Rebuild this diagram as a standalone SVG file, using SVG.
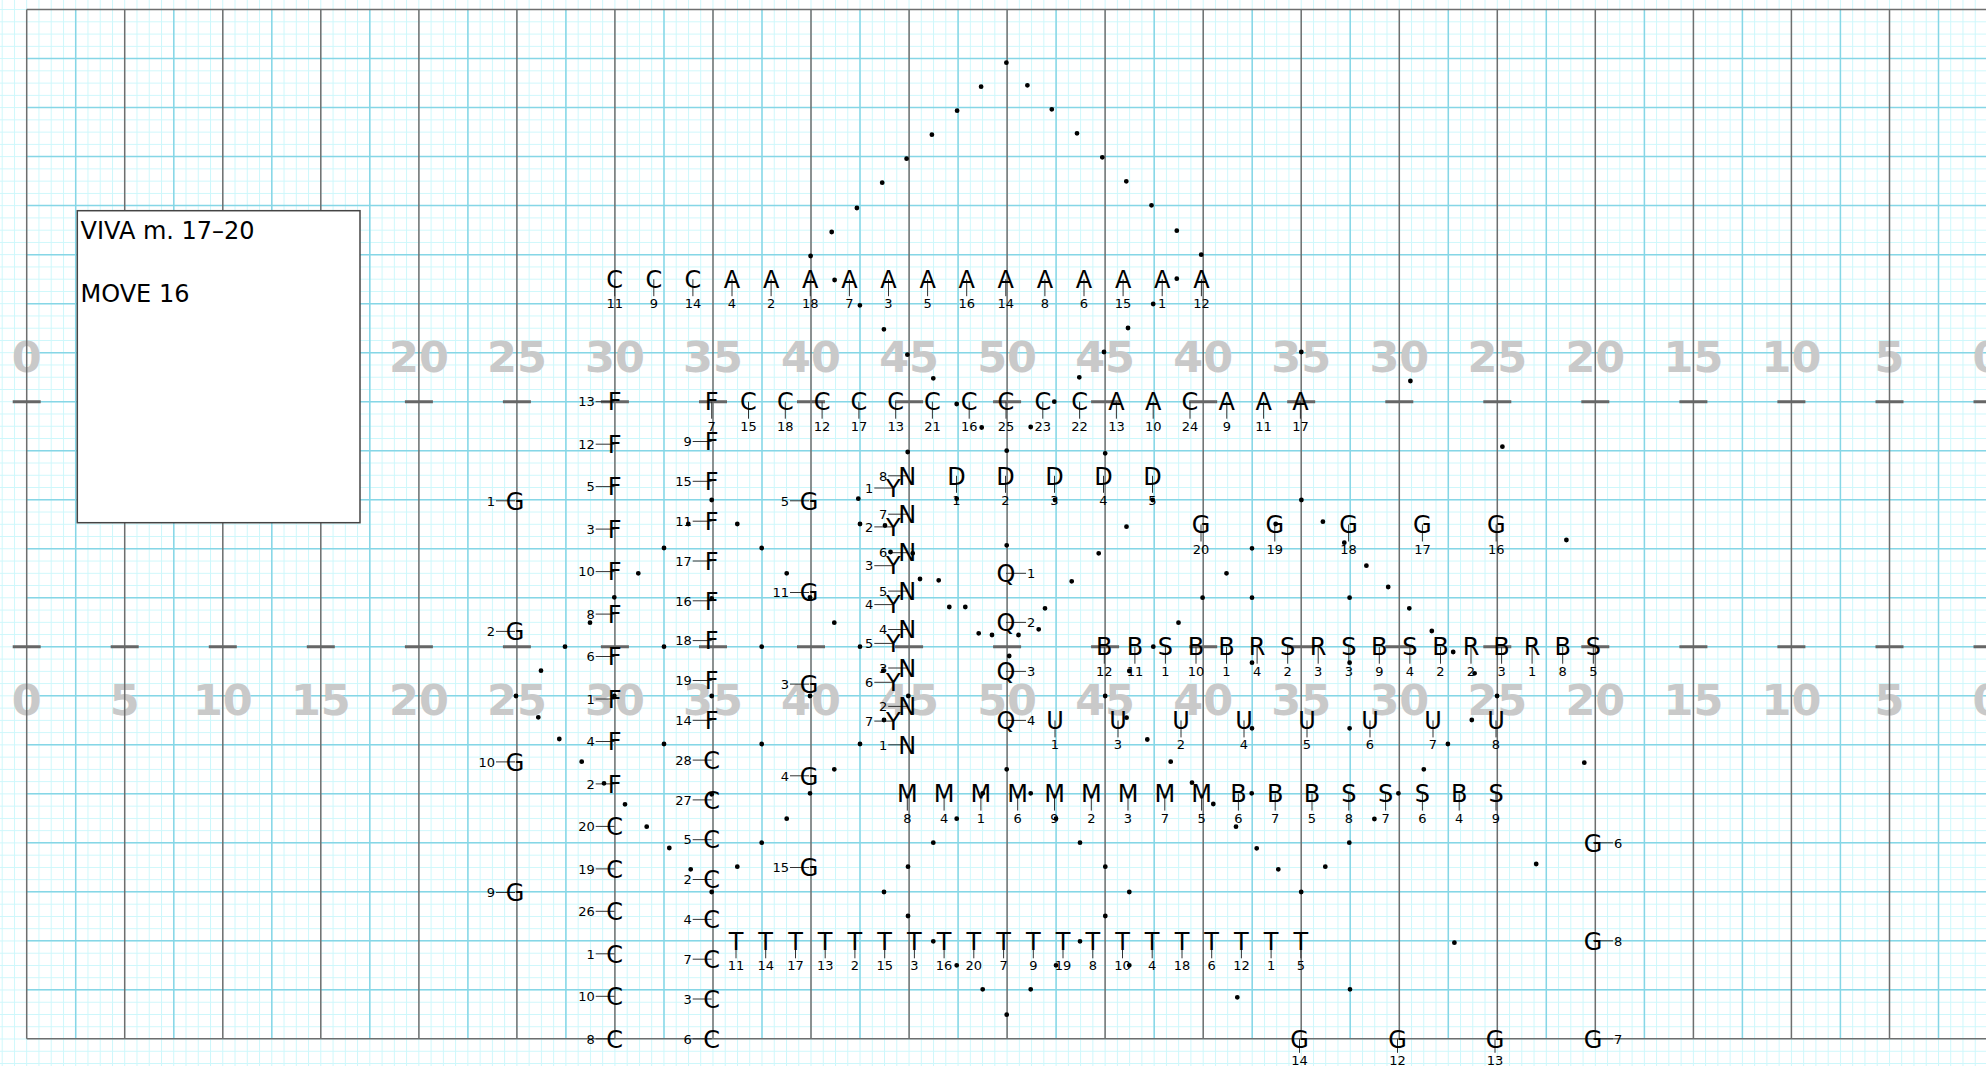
<svg xmlns="http://www.w3.org/2000/svg" width="1986" height="1066" viewBox="0 0 1986 1066">
<style>
.L{font-family:'DejaVu Sans',sans-serif;font-size:24px;text-anchor:middle;fill:#000}
.n{font-family:'DejaVu Sans',sans-serif;font-size:13px;text-anchor:middle;fill:#000}
.e{text-anchor:end}
.st{text-anchor:start}
g.s path{stroke:#333;stroke-width:1;fill:none}
.yn{font-family:'DejaVu Sans',sans-serif;font-weight:bold;font-size:43px;fill:#c9c9c9;text-anchor:middle}
</style>
<defs>
<pattern id="fg" patternUnits="userSpaceOnUse" x="26.2" y="9.1" width="12.255" height="12.255"><path d="M0.5 0V12.255M0 0.5H12.255" stroke="#cdf7fb" stroke-width="1" fill="none"/></pattern>
</defs>
<g id="field">
<rect width="1986" height="1066" fill="#fff"/>
<rect width="1986" height="1066" fill="url(#fg)"/>
<path stroke="#86d6e6" stroke-width="1.5" fill="none" d="M75.7 9.6V1038.8M173.8 9.6V1038.8M271.8 9.6V1038.8M369.8 9.6V1038.8M467.9 9.6V1038.8M565.9 9.6V1038.8M664 9.6V1038.8M762 9.6V1038.8M860 9.6V1038.8M958.1 9.6V1038.8M1056.1 9.6V1038.8M1154.2 9.6V1038.8M1252.2 9.6V1038.8M1350.2 9.6V1038.8M1448.3 9.6V1038.8M1546.3 9.6V1038.8M1644.4 9.6V1038.8M1742.4 9.6V1038.8M1840.4 9.6V1038.8M1938.5 9.6V1038.8M26.7 58.6H1986M26.7 107.6H1986M26.7 156.6H1986M26.7 205.6H1986M26.7 254.7H1986M26.7 303.7H1986M26.7 352.7H1986M26.7 401.7H1986M26.7 450.7H1986M26.7 499.7H1986M26.7 548.7H1986M26.7 597.7H1986M26.7 646.7H1986M26.7 695.7H1986M26.7 744.8H1986M26.7 793.8H1986M26.7 842.8H1986M26.7 891.8H1986M26.7 940.8H1986M26.7 989.8H1986"/>
<g class="yn">
<text x="26.7" y="372">0</text><text x="418.9" y="372">20</text><text x="516.9" y="372">25</text><text x="614.9" y="372">30</text><text x="713" y="372">35</text><text x="811" y="372">40</text><text x="909.1" y="372">45</text><text x="1007.1" y="372">50</text><text x="1105.1" y="372">45</text><text x="1203.2" y="372">40</text><text x="1301.2" y="372">35</text><text x="1399.3" y="372">30</text><text x="1497.3" y="372">25</text><text x="1595.3" y="372">20</text><text x="1693.4" y="372">15</text><text x="1791.4" y="372">10</text><text x="1889.5" y="372">5</text><text x="1987.5" y="372">0</text>
<text x="26.7" y="715">0</text><text x="124.7" y="715">5</text><text x="222.8" y="715">10</text><text x="320.8" y="715">15</text><text x="418.9" y="715">20</text><text x="516.9" y="715">25</text><text x="614.9" y="715">30</text><text x="713" y="715">35</text><text x="811" y="715">40</text><text x="909.1" y="715">45</text><text x="1007.1" y="715">50</text><text x="1105.1" y="715">45</text><text x="1203.2" y="715">40</text><text x="1301.2" y="715">35</text><text x="1399.3" y="715">30</text><text x="1497.3" y="715">25</text><text x="1595.3" y="715">20</text><text x="1693.4" y="715">15</text><text x="1791.4" y="715">10</text><text x="1889.5" y="715">5</text><text x="1987.5" y="715">0</text>
</g>
<path stroke="#6e6e6e" stroke-width="1.5" fill="none" d="M26.7 9.6V1038.8M124.7 9.6V1038.8M222.8 9.6V1038.8M320.8 9.6V1038.8M418.9 9.6V1038.8M516.9 9.6V1038.8M614.9 9.6V1038.8M713 9.6V1038.8M811 9.6V1038.8M909.1 9.6V1038.8M1007.1 9.6V1038.8M1105.1 9.6V1038.8M1203.2 9.6V1038.8M1301.2 9.6V1038.8M1399.3 9.6V1038.8M1497.3 9.6V1038.8M1595.3 9.6V1038.8M1693.4 9.6V1038.8M1791.4 9.6V1038.8M1889.5 9.6V1038.8M26.7 9.6H1986M26.7 1038.8H1986"/>
<path stroke="#666" stroke-width="3" fill="none" d="M12.7 401.7h28M110.7 401.7h28M208.8 401.7h28M306.8 401.7h28M404.9 401.7h28M502.9 401.7h28M600.9 401.7h28M699 401.7h28M797 401.7h28M895.1 401.7h28M993.1 401.7h28M1091.1 401.7h28M1189.2 401.7h28M1287.2 401.7h28M1385.3 401.7h28M1483.3 401.7h28M1581.3 401.7h28M1679.4 401.7h28M1777.4 401.7h28M1875.5 401.7h28M1973.5 401.7h28M12.7 646.7h28M110.7 646.7h28M208.8 646.7h28M306.8 646.7h28M404.9 646.7h28M502.9 646.7h28M600.9 646.7h28M699 646.7h28M797 646.7h28M895.1 646.7h28M993.1 646.7h28M1091.1 646.7h28M1189.2 646.7h28M1287.2 646.7h28M1385.3 646.7h28M1483.3 646.7h28M1581.3 646.7h28M1679.4 646.7h28M1777.4 646.7h28M1875.5 646.7h28M1973.5 646.7h28"/>
</g>
<g id="title-box">
<rect x="77.3" y="210.7" width="282.7" height="312" fill="#fff" stroke="#444" stroke-width="1.5"/>
<text x="80.5" y="239.3" font-family="'DejaVu Sans',sans-serif" font-size="24">VIVA m. 17–20</text>
<text x="80.5" y="302" font-family="'DejaVu Sans',sans-serif" font-size="24">MOVE 16</text>
</g>
<g id="row1">
<g id="r1-C11" class="s"><path d="M614.7 279.2v17"/><text class="L" x="614.7" y="287.9">C</text><text class="n" x="614.7" y="308.2">11</text></g>
<g id="r1-C9" class="s"><path d="M653.8 279.2v17"/><text class="L" x="653.8" y="287.9">C</text><text class="n" x="653.8" y="308.2">9</text></g>
<g id="r1-C14" class="s"><path d="M692.9 279.2v17"/><text class="L" x="692.9" y="287.9">C</text><text class="n" x="692.9" y="308.2">14</text></g>
<g id="r1-A4" class="s"><path d="M732 279.2v17"/><text class="L" x="732" y="287.9">A</text><text class="n" x="732" y="308.2">4</text></g>
<g id="r1-A2" class="s"><path d="M771.1 279.2v17"/><text class="L" x="771.1" y="287.9">A</text><text class="n" x="771.1" y="308.2">2</text></g>
<g id="r1-A18" class="s"><path d="M810.3 279.2v17"/><text class="L" x="810.3" y="287.9">A</text><text class="n" x="810.3" y="308.2">18</text></g>
<g id="r1-A7" class="s"><path d="M849.4 279.2v17"/><text class="L" x="849.4" y="287.9">A</text><text class="n" x="849.4" y="308.2">7</text></g>
<g id="r1-A3" class="s"><path d="M888.5 279.2v17"/><text class="L" x="888.5" y="287.9">A</text><text class="n" x="888.5" y="308.2">3</text></g>
<g id="r1-A5" class="s"><path d="M927.6 279.2v17"/><text class="L" x="927.6" y="287.9">A</text><text class="n" x="927.6" y="308.2">5</text></g>
<g id="r1-A16" class="s"><path d="M966.7 279.2v17"/><text class="L" x="966.7" y="287.9">A</text><text class="n" x="966.7" y="308.2">16</text></g>
<g id="r1-A14" class="s"><path d="M1005.8 279.2v17"/><text class="L" x="1005.8" y="287.9">A</text><text class="n" x="1005.8" y="308.2">14</text></g>
<g id="r1-A8" class="s"><path d="M1044.9 279.2v17"/><text class="L" x="1044.9" y="287.9">A</text><text class="n" x="1044.9" y="308.2">8</text></g>
<g id="r1-A6" class="s"><path d="M1084 279.2v17"/><text class="L" x="1084" y="287.9">A</text><text class="n" x="1084" y="308.2">6</text></g>
<g id="r1-A15" class="s"><path d="M1123.1 279.2v17"/><text class="L" x="1123.1" y="287.9">A</text><text class="n" x="1123.1" y="308.2">15</text></g>
<g id="r1-A1" class="s"><path d="M1162.2 279.2v17"/><text class="L" x="1162.2" y="287.9">A</text><text class="n" x="1162.2" y="308.2">1</text></g>
<g id="r1-A12" class="s"><path d="M1201.4 279.2v17"/><text class="L" x="1201.4" y="287.9">A</text><text class="n" x="1201.4" y="308.2">12</text></g>
</g>
<g id="row2">
<g id="r2-F7" class="s"><path d="M711.7 401.7v17"/><text class="L" x="711.7" y="410.4">F</text><text class="n" x="711.7" y="430.7">7</text></g>
<g id="r2-C15" class="s"><path d="M748.5 401.7v17"/><text class="L" x="748.5" y="410.4">C</text><text class="n" x="748.5" y="430.7">15</text></g>
<g id="r2-C18" class="s"><path d="M785.3 401.7v17"/><text class="L" x="785.3" y="410.4">C</text><text class="n" x="785.3" y="430.7">18</text></g>
<g id="r2-C12" class="s"><path d="M822.1 401.7v17"/><text class="L" x="822.1" y="410.4">C</text><text class="n" x="822.1" y="430.7">12</text></g>
<g id="r2-C17" class="s"><path d="M858.9 401.7v17"/><text class="L" x="858.9" y="410.4">C</text><text class="n" x="858.9" y="430.7">17</text></g>
<g id="r2-C13" class="s"><path d="M895.7 401.7v17"/><text class="L" x="895.7" y="410.4">C</text><text class="n" x="895.7" y="430.7">13</text></g>
<g id="r2-C21" class="s"><path d="M932.4 401.7v17"/><text class="L" x="932.4" y="410.4">C</text><text class="n" x="932.4" y="430.7">21</text></g>
<g id="r2-C16" class="s"><path d="M969.2 401.7v17"/><text class="L" x="969.2" y="410.4">C</text><text class="n" x="969.2" y="430.7">16</text></g>
<g id="r2-C25" class="s"><path d="M1006 401.7v17"/><text class="L" x="1006" y="410.4">C</text><text class="n" x="1006" y="430.7">25</text></g>
<g id="r2-C23" class="s"><path d="M1042.8 401.7v17"/><text class="L" x="1042.8" y="410.4">C</text><text class="n" x="1042.8" y="430.7">23</text></g>
<g id="r2-C22" class="s"><path d="M1079.6 401.7v17"/><text class="L" x="1079.6" y="410.4">C</text><text class="n" x="1079.6" y="430.7">22</text></g>
<g id="r2-A13" class="s"><path d="M1116.4 401.7v17"/><text class="L" x="1116.4" y="410.4">A</text><text class="n" x="1116.4" y="430.7">13</text></g>
<g id="r2-A10" class="s"><path d="M1153.2 401.7v17"/><text class="L" x="1153.2" y="410.4">A</text><text class="n" x="1153.2" y="430.7">10</text></g>
<g id="r2-C24" class="s"><path d="M1190 401.7v17"/><text class="L" x="1190" y="410.4">C</text><text class="n" x="1190" y="430.7">24</text></g>
<g id="r2-A9" class="s"><path d="M1226.8 401.7v17"/><text class="L" x="1226.8" y="410.4">A</text><text class="n" x="1226.8" y="430.7">9</text></g>
<g id="r2-A11" class="s"><path d="M1263.6 401.7v17"/><text class="L" x="1263.6" y="410.4">A</text><text class="n" x="1263.6" y="430.7">11</text></g>
<g id="r2-A17" class="s"><path d="M1300.4 401.7v17"/><text class="L" x="1300.4" y="410.4">A</text><text class="n" x="1300.4" y="430.7">17</text></g>
</g>
<g id="col30">
<g id="c30-F13" class="s"><path d="M595.7 401.7h19"/><text class="L" x="614.7" y="410.4">F</text><text class="n e" x="594.7" y="406.4">13</text></g>
<g id="c30-F12" class="s"><path d="M595.7 444.2h19"/><text class="L" x="614.7" y="452.9">F</text><text class="n e" x="594.7" y="448.9">12</text></g>
<g id="c30-F5" class="s"><path d="M595.7 486.6h19"/><text class="L" x="614.7" y="495.3">F</text><text class="n e" x="594.7" y="491.3">5</text></g>
<g id="c30-F3" class="s"><path d="M595.7 529.1h19"/><text class="L" x="614.7" y="537.8">F</text><text class="n e" x="594.7" y="533.8">3</text></g>
<g id="c30-F10" class="s"><path d="M595.7 571.6h19"/><text class="L" x="614.7" y="580.3">F</text><text class="n e" x="594.7" y="576.3">10</text></g>
<g id="c30-F8" class="s"><path d="M595.7 614.1h19"/><text class="L" x="614.7" y="622.8">F</text><text class="n e" x="594.7" y="618.8">8</text></g>
<g id="c30-F6" class="s"><path d="M595.7 656.5h19"/><text class="L" x="614.7" y="665.2">F</text><text class="n e" x="594.7" y="661.2">6</text></g>
<g id="c30-F1" class="s"><path d="M595.7 699h19"/><text class="L" x="614.7" y="707.7">F</text><text class="n e" x="594.7" y="703.7">1</text></g>
<g id="c30-F4" class="s"><path d="M595.7 741.5h19"/><text class="L" x="614.7" y="750.2">F</text><text class="n e" x="594.7" y="746.2">4</text></g>
<g id="c30-F2" class="s"><path d="M595.7 783.9h19"/><text class="L" x="614.7" y="792.6">F</text><text class="n e" x="594.7" y="788.6">2</text></g>
<g id="c30-C20" class="s"><path d="M595.7 826.4h19"/><text class="L" x="614.7" y="835.1">C</text><text class="n e" x="594.7" y="831.1">20</text></g>
<g id="c30-C19" class="s"><path d="M595.7 868.9h19"/><text class="L" x="614.7" y="877.6">C</text><text class="n e" x="594.7" y="873.6">19</text></g>
<g id="c30-C26" class="s"><path d="M595.7 911.3h19"/><text class="L" x="614.7" y="920">C</text><text class="n e" x="594.7" y="916">26</text></g>
<g id="c30-C1" class="s"><path d="M595.7 953.8h19"/><text class="L" x="614.7" y="962.5">C</text><text class="n e" x="594.7" y="958.5">1</text></g>
<g id="c30-C10" class="s"><path d="M595.7 996.3h19"/><text class="L" x="614.7" y="1005">C</text><text class="n e" x="594.7" y="1001">10</text></g>
<g id="c30-C8" class="s"><path d="M595.7 1038.8h19"/><text class="L" x="614.7" y="1047.5">C</text><text class="n e" x="594.7" y="1043.5">8</text></g>
</g>
<g id="col35">
<g id="c35-F9" class="s"><path d="M692.7 441.5h19"/><text class="L" x="711.7" y="450.2">F</text><text class="n e" x="691.7" y="446.2">9</text></g>
<g id="c35-F15" class="s"><path d="M692.7 481.3h19"/><text class="L" x="711.7" y="490">F</text><text class="n e" x="691.7" y="486">15</text></g>
<g id="c35-F11" class="s"><path d="M692.7 521.2h19"/><text class="L" x="711.7" y="529.9">F</text><text class="n e" x="691.7" y="525.9">11</text></g>
<g id="c35-F17" class="s"><path d="M692.7 561h19"/><text class="L" x="711.7" y="569.7">F</text><text class="n e" x="691.7" y="565.7">17</text></g>
<g id="c35-F16" class="s"><path d="M692.7 600.8h19"/><text class="L" x="711.7" y="609.5">F</text><text class="n e" x="691.7" y="605.5">16</text></g>
<g id="c35-F18" class="s"><path d="M692.7 640.6h19"/><text class="L" x="711.7" y="649.3">F</text><text class="n e" x="691.7" y="645.3">18</text></g>
<g id="c35-F19" class="s"><path d="M692.7 680.5h19"/><text class="L" x="711.7" y="689.2">F</text><text class="n e" x="691.7" y="685.2">19</text></g>
<g id="c35-F14" class="s"><path d="M692.7 720.3h19"/><text class="L" x="711.7" y="729">F</text><text class="n e" x="691.7" y="725">14</text></g>
<g id="c35-C28" class="s"><path d="M692.7 760.1h19"/><text class="L" x="711.7" y="768.8">C</text><text class="n e" x="691.7" y="764.8">28</text></g>
<g id="c35-C27" class="s"><path d="M692.7 799.9h19"/><text class="L" x="711.7" y="808.6">C</text><text class="n e" x="691.7" y="804.6">27</text></g>
<g id="c35-C5" class="s"><path d="M692.7 839.7h19"/><text class="L" x="711.7" y="848.4">C</text><text class="n e" x="691.7" y="844.4">5</text></g>
<g id="c35-C2" class="s"><path d="M692.7 879.5h19"/><text class="L" x="711.7" y="888.2">C</text><text class="n e" x="691.7" y="884.2">2</text></g>
<g id="c35-C4" class="s"><path d="M692.7 919.4h19"/><text class="L" x="711.7" y="928.1">C</text><text class="n e" x="691.7" y="924.1">4</text></g>
<g id="c35-C7" class="s"><path d="M692.7 959.2h19"/><text class="L" x="711.7" y="967.9">C</text><text class="n e" x="691.7" y="963.9">7</text></g>
<g id="c35-C3" class="s"><path d="M692.7 999h19"/><text class="L" x="711.7" y="1007.7">C</text><text class="n e" x="691.7" y="1003.7">3</text></g>
<g id="c35-C6" class="s"><path d="M692.7 1038.8h19"/><text class="L" x="711.7" y="1047.5">C</text><text class="n e" x="691.7" y="1043.5">6</text></g>
</g>
<g id="guard-left">
<g id="g25-G1" class="s"><path d="M496 500.8h19"/><text class="L" x="515" y="509.5">G</text><text class="n e" x="495" y="505.5">1</text></g>
<g id="g25-G2" class="s"><path d="M496 631.4h19"/><text class="L" x="515" y="640.1">G</text><text class="n e" x="495" y="636.1">2</text></g>
<g id="g25-G10" class="s"><path d="M496 761.9h19"/><text class="L" x="515" y="770.6">G</text><text class="n e" x="495" y="766.6">10</text></g>
<g id="g25-G9" class="s"><path d="M496 892.5h19"/><text class="L" x="515" y="901.2">G</text><text class="n e" x="495" y="897.2">9</text></g>
<g id="g40-G5" class="s"><path d="M790 500.8h19"/><text class="L" x="809" y="509.5">G</text><text class="n e" x="789" y="505.5">5</text></g>
<g id="g40-G11" class="s"><path d="M790 592.5h19"/><text class="L" x="809" y="601.2">G</text><text class="n e" x="789" y="597.2">11</text></g>
<g id="g40-G3" class="s"><path d="M790 684.1h19"/><text class="L" x="809" y="692.8">G</text><text class="n e" x="789" y="688.8">3</text></g>
<g id="g40-G4" class="s"><path d="M790 775.8h19"/><text class="L" x="809" y="784.5">G</text><text class="n e" x="789" y="780.5">4</text></g>
<g id="g40-G15" class="s"><path d="M790 867.5h19"/><text class="L" x="809" y="876.2">G</text><text class="n e" x="789" y="872.2">15</text></g>
</g>
<g id="colY">
<g id="Y1" class="s"><path d="M874.3 488h19"/><text class="L" x="893.3" y="496.7">Y</text><text class="n e" x="873.3" y="492.7">1</text></g>
<g id="Y2" class="s"><path d="M874.3 526.9h19"/><text class="L" x="893.3" y="535.6">Y</text><text class="n e" x="873.3" y="531.6">2</text></g>
<g id="Y3" class="s"><path d="M874.3 565.7h19"/><text class="L" x="893.3" y="574.4">Y</text><text class="n e" x="873.3" y="570.4">3</text></g>
<g id="Y4" class="s"><path d="M874.3 604.6h19"/><text class="L" x="893.3" y="613.3">Y</text><text class="n e" x="873.3" y="609.3">4</text></g>
<g id="Y5" class="s"><path d="M874.3 643.4h19"/><text class="L" x="893.3" y="652.1">Y</text><text class="n e" x="873.3" y="648.1">5</text></g>
<g id="Y6" class="s"><path d="M874.3 682.3h19"/><text class="L" x="893.3" y="691">Y</text><text class="n e" x="873.3" y="687">6</text></g>
<g id="Y7" class="s"><path d="M874.3 721.1h19"/><text class="L" x="893.3" y="729.8">Y</text><text class="n e" x="873.3" y="725.8">7</text></g>
</g>
<g id="colN">
<g id="N8" class="s"><path d="M888.2 475.8h19"/><text class="L" x="907.2" y="484.5">N</text><text class="n e" x="887.2" y="480.5">8</text></g>
<g id="N7" class="s"><path d="M888.2 514.2h19"/><text class="L" x="907.2" y="522.9">N</text><text class="n e" x="887.2" y="518.9">7</text></g>
<g id="N6" class="s"><path d="M888.2 552.7h19"/><text class="L" x="907.2" y="561.4">N</text><text class="n e" x="887.2" y="557.4">6</text></g>
<g id="N5" class="s"><path d="M888.2 591.1h19"/><text class="L" x="907.2" y="599.8">N</text><text class="n e" x="887.2" y="595.8">5</text></g>
<g id="N4" class="s"><path d="M888.2 629.5h19"/><text class="L" x="907.2" y="638.2">N</text><text class="n e" x="887.2" y="634.2">4</text></g>
<g id="N3" class="s"><path d="M888.2 668h19"/><text class="L" x="907.2" y="676.7">N</text><text class="n e" x="887.2" y="672.7">3</text></g>
<g id="N2" class="s"><path d="M888.2 706.4h19"/><text class="L" x="907.2" y="715.1">N</text><text class="n e" x="887.2" y="711.1">2</text></g>
<g id="N1" class="s"><path d="M888.2 744.8h19"/><text class="L" x="907.2" y="753.5">N</text><text class="n e" x="887.2" y="749.5">1</text></g>
</g>
<g id="rowD">
<g id="D1" class="s"><path d="M956.5 475.8v17"/><text class="L" x="956.5" y="484.5">D</text><text class="n" x="956.5" y="504.8">1</text></g>
<g id="D2" class="s"><path d="M1005.5 475.8v17"/><text class="L" x="1005.5" y="484.5">D</text><text class="n" x="1005.5" y="504.8">2</text></g>
<g id="D3" class="s"><path d="M1054.5 475.8v17"/><text class="L" x="1054.5" y="484.5">D</text><text class="n" x="1054.5" y="504.8">3</text></g>
<g id="D4" class="s"><path d="M1103.5 475.8v17"/><text class="L" x="1103.5" y="484.5">D</text><text class="n" x="1103.5" y="504.8">4</text></g>
<g id="D5" class="s"><path d="M1152.5 475.8v17"/><text class="L" x="1152.5" y="484.5">D</text><text class="n" x="1152.5" y="504.8">5</text></g>
</g>
<g id="colQ">
<g id="Q1" class="s"><path d="M1006 573.3h20"/><text class="L" x="1006" y="582">Q</text><text class="n st" x="1027" y="578">1</text></g>
<g id="Q2" class="s"><path d="M1006 622.4h20"/><text class="L" x="1006" y="631.1">Q</text><text class="n st" x="1027" y="627.1">2</text></g>
<g id="Q3" class="s"><path d="M1006 671.4h20"/><text class="L" x="1006" y="680.1">Q</text><text class="n st" x="1027" y="676.1">3</text></g>
<g id="Q4" class="s"><path d="M1006 720.4h20"/><text class="L" x="1006" y="729.1">Q</text><text class="n st" x="1027" y="725.1">4</text></g>
</g>
<g id="rowU">
<g id="U1" class="s"><path d="M1055 720.4v17"/><text class="L" x="1055" y="729.1">U</text><text class="n" x="1055" y="749.4">1</text></g>
<g id="U3" class="s"><path d="M1118 720.4v17"/><text class="L" x="1118" y="729.1">U</text><text class="n" x="1118" y="749.4">3</text></g>
<g id="U2" class="s"><path d="M1181 720.4v17"/><text class="L" x="1181" y="729.1">U</text><text class="n" x="1181" y="749.4">2</text></g>
<g id="U4" class="s"><path d="M1244 720.4v17"/><text class="L" x="1244" y="729.1">U</text><text class="n" x="1244" y="749.4">4</text></g>
<g id="U5" class="s"><path d="M1307 720.4v17"/><text class="L" x="1307" y="729.1">U</text><text class="n" x="1307" y="749.4">5</text></g>
<g id="U6" class="s"><path d="M1370 720.4v17"/><text class="L" x="1370" y="729.1">U</text><text class="n" x="1370" y="749.4">6</text></g>
<g id="U7" class="s"><path d="M1433 720.4v17"/><text class="L" x="1433" y="729.1">U</text><text class="n" x="1433" y="749.4">7</text></g>
<g id="U8" class="s"><path d="M1496 720.4v17"/><text class="L" x="1496" y="729.1">U</text><text class="n" x="1496" y="749.4">8</text></g>
</g>
<g id="rowG">
<g id="G20" class="s"><path d="M1201 524.5v17"/><text class="L" x="1201" y="533.2">G</text><text class="n" x="1201" y="553.5">20</text></g>
<g id="G19" class="s"><path d="M1274.8 524.5v17"/><text class="L" x="1274.8" y="533.2">G</text><text class="n" x="1274.8" y="553.5">19</text></g>
<g id="G18" class="s"><path d="M1348.6 524.5v17"/><text class="L" x="1348.6" y="533.2">G</text><text class="n" x="1348.6" y="553.5">18</text></g>
<g id="G17" class="s"><path d="M1422.4 524.5v17"/><text class="L" x="1422.4" y="533.2">G</text><text class="n" x="1422.4" y="553.5">17</text></g>
<g id="G16" class="s"><path d="M1496.2 524.5v17"/><text class="L" x="1496.2" y="533.2">G</text><text class="n" x="1496.2" y="553.5">16</text></g>
</g>
<g id="rowBSR">
<g id="bsr-B12" class="s"><path d="M1104.3 646.7v17"/><text class="L" x="1104.3" y="655.4">B</text><text class="n" x="1104.3" y="675.7">12</text></g>
<g id="bsr-B11" class="s"><path d="M1134.9 646.7v17"/><text class="L" x="1134.9" y="655.4">B</text><text class="n" x="1134.9" y="675.7">11</text></g>
<g id="bsr-S1" class="s"><path d="M1165.4 646.7v17"/><text class="L" x="1165.4" y="655.4">S</text><text class="n" x="1165.4" y="675.7">1</text></g>
<g id="bsr-B10" class="s"><path d="M1196 646.7v17"/><text class="L" x="1196" y="655.4">B</text><text class="n" x="1196" y="675.7">10</text></g>
<g id="bsr-B1" class="s"><path d="M1226.5 646.7v17"/><text class="L" x="1226.5" y="655.4">B</text><text class="n" x="1226.5" y="675.7">1</text></g>
<g id="bsr-R4" class="s"><path d="M1257.1 646.7v17"/><text class="L" x="1257.1" y="655.4">R</text><text class="n" x="1257.1" y="675.7">4</text></g>
<g id="bsr-S2" class="s"><path d="M1287.7 646.7v17"/><text class="L" x="1287.7" y="655.4">S</text><text class="n" x="1287.7" y="675.7">2</text></g>
<g id="bsr-R3" class="s"><path d="M1318.2 646.7v17"/><text class="L" x="1318.2" y="655.4">R</text><text class="n" x="1318.2" y="675.7">3</text></g>
<g id="bsr-S3" class="s"><path d="M1348.8 646.7v17"/><text class="L" x="1348.8" y="655.4">S</text><text class="n" x="1348.8" y="675.7">3</text></g>
<g id="bsr-B9" class="s"><path d="M1379.3 646.7v17"/><text class="L" x="1379.3" y="655.4">B</text><text class="n" x="1379.3" y="675.7">9</text></g>
<g id="bsr-S4" class="s"><path d="M1409.9 646.7v17"/><text class="L" x="1409.9" y="655.4">S</text><text class="n" x="1409.9" y="675.7">4</text></g>
<g id="bsr-B2" class="s"><path d="M1440.5 646.7v17"/><text class="L" x="1440.5" y="655.4">B</text><text class="n" x="1440.5" y="675.7">2</text></g>
<g id="bsr-R2" class="s"><path d="M1471 646.7v17"/><text class="L" x="1471" y="655.4">R</text><text class="n" x="1471" y="675.7">2</text></g>
<g id="bsr-B3" class="s"><path d="M1501.6 646.7v17"/><text class="L" x="1501.6" y="655.4">B</text><text class="n" x="1501.6" y="675.7">3</text></g>
<g id="bsr-R1" class="s"><path d="M1532.1 646.7v17"/><text class="L" x="1532.1" y="655.4">R</text><text class="n" x="1532.1" y="675.7">1</text></g>
<g id="bsr-B8" class="s"><path d="M1562.7 646.7v17"/><text class="L" x="1562.7" y="655.4">B</text><text class="n" x="1562.7" y="675.7">8</text></g>
<g id="bsr-S5" class="s"><path d="M1593.3 646.7v17"/><text class="L" x="1593.3" y="655.4">S</text><text class="n" x="1593.3" y="675.7">5</text></g>
</g>
<g id="rowM">
<g id="m-M8" class="s"><path d="M907.3 793.6v17"/><text class="L" x="907.3" y="802.3">M</text><text class="n" x="907.3" y="822.6">8</text></g>
<g id="m-M4" class="s"><path d="M944.1 793.6v17"/><text class="L" x="944.1" y="802.3">M</text><text class="n" x="944.1" y="822.6">4</text></g>
<g id="m-M1" class="s"><path d="M980.9 793.6v17"/><text class="L" x="980.9" y="802.3">M</text><text class="n" x="980.9" y="822.6">1</text></g>
<g id="m-M6" class="s"><path d="M1017.7 793.6v17"/><text class="L" x="1017.7" y="802.3">M</text><text class="n" x="1017.7" y="822.6">6</text></g>
<g id="m-M9" class="s"><path d="M1054.5 793.6v17"/><text class="L" x="1054.5" y="802.3">M</text><text class="n" x="1054.5" y="822.6">9</text></g>
<g id="m-M2" class="s"><path d="M1091.3 793.6v17"/><text class="L" x="1091.3" y="802.3">M</text><text class="n" x="1091.3" y="822.6">2</text></g>
<g id="m-M3" class="s"><path d="M1128 793.6v17"/><text class="L" x="1128" y="802.3">M</text><text class="n" x="1128" y="822.6">3</text></g>
<g id="m-M7" class="s"><path d="M1164.8 793.6v17"/><text class="L" x="1164.8" y="802.3">M</text><text class="n" x="1164.8" y="822.6">7</text></g>
<g id="m-M5" class="s"><path d="M1201.6 793.6v17"/><text class="L" x="1201.6" y="802.3">M</text><text class="n" x="1201.6" y="822.6">5</text></g>
<g id="m-B6" class="s"><path d="M1238.4 793.6v17"/><text class="L" x="1238.4" y="802.3">B</text><text class="n" x="1238.4" y="822.6">6</text></g>
<g id="m-B7" class="s"><path d="M1275.2 793.6v17"/><text class="L" x="1275.2" y="802.3">B</text><text class="n" x="1275.2" y="822.6">7</text></g>
<g id="m-B5" class="s"><path d="M1312 793.6v17"/><text class="L" x="1312" y="802.3">B</text><text class="n" x="1312" y="822.6">5</text></g>
<g id="m-S8" class="s"><path d="M1348.8 793.6v17"/><text class="L" x="1348.8" y="802.3">S</text><text class="n" x="1348.8" y="822.6">8</text></g>
<g id="m-S7" class="s"><path d="M1385.6 793.6v17"/><text class="L" x="1385.6" y="802.3">S</text><text class="n" x="1385.6" y="822.6">7</text></g>
<g id="m-S6" class="s"><path d="M1422.4 793.6v17"/><text class="L" x="1422.4" y="802.3">S</text><text class="n" x="1422.4" y="822.6">6</text></g>
<g id="m-B4" class="s"><path d="M1459.2 793.6v17"/><text class="L" x="1459.2" y="802.3">B</text><text class="n" x="1459.2" y="822.6">4</text></g>
<g id="m-S9" class="s"><path d="M1496 793.6v17"/><text class="L" x="1496" y="802.3">S</text><text class="n" x="1496" y="822.6">9</text></g>
</g>
<g id="rowT">
<g id="T11" class="s"><path d="M736 941.3v17"/><text class="L" x="736" y="950">T</text><text class="n" x="736" y="970.3">11</text></g>
<g id="T14" class="s"><path d="M765.7 941.3v17"/><text class="L" x="765.7" y="950">T</text><text class="n" x="765.7" y="970.3">14</text></g>
<g id="T17" class="s"><path d="M795.5 941.3v17"/><text class="L" x="795.5" y="950">T</text><text class="n" x="795.5" y="970.3">17</text></g>
<g id="T13" class="s"><path d="M825.2 941.3v17"/><text class="L" x="825.2" y="950">T</text><text class="n" x="825.2" y="970.3">13</text></g>
<g id="T2" class="s"><path d="M854.9 941.3v17"/><text class="L" x="854.9" y="950">T</text><text class="n" x="854.9" y="970.3">2</text></g>
<g id="T15" class="s"><path d="M884.7 941.3v17"/><text class="L" x="884.7" y="950">T</text><text class="n" x="884.7" y="970.3">15</text></g>
<g id="T3" class="s"><path d="M914.4 941.3v17"/><text class="L" x="914.4" y="950">T</text><text class="n" x="914.4" y="970.3">3</text></g>
<g id="T16" class="s"><path d="M944.1 941.3v17"/><text class="L" x="944.1" y="950">T</text><text class="n" x="944.1" y="970.3">16</text></g>
<g id="T20" class="s"><path d="M973.8 941.3v17"/><text class="L" x="973.8" y="950">T</text><text class="n" x="973.8" y="970.3">20</text></g>
<g id="T7" class="s"><path d="M1003.6 941.3v17"/><text class="L" x="1003.6" y="950">T</text><text class="n" x="1003.6" y="970.3">7</text></g>
<g id="T9" class="s"><path d="M1033.3 941.3v17"/><text class="L" x="1033.3" y="950">T</text><text class="n" x="1033.3" y="970.3">9</text></g>
<g id="T19" class="s"><path d="M1063 941.3v17"/><text class="L" x="1063" y="950">T</text><text class="n" x="1063" y="970.3">19</text></g>
<g id="T8" class="s"><path d="M1092.8 941.3v17"/><text class="L" x="1092.8" y="950">T</text><text class="n" x="1092.8" y="970.3">8</text></g>
<g id="T10" class="s"><path d="M1122.5 941.3v17"/><text class="L" x="1122.5" y="950">T</text><text class="n" x="1122.5" y="970.3">10</text></g>
<g id="T4" class="s"><path d="M1152.2 941.3v17"/><text class="L" x="1152.2" y="950">T</text><text class="n" x="1152.2" y="970.3">4</text></g>
<g id="T18" class="s"><path d="M1182 941.3v17"/><text class="L" x="1182" y="950">T</text><text class="n" x="1182" y="970.3">18</text></g>
<g id="T6" class="s"><path d="M1211.7 941.3v17"/><text class="L" x="1211.7" y="950">T</text><text class="n" x="1211.7" y="970.3">6</text></g>
<g id="T12" class="s"><path d="M1241.4 941.3v17"/><text class="L" x="1241.4" y="950">T</text><text class="n" x="1241.4" y="970.3">12</text></g>
<g id="T1" class="s"><path d="M1271.1 941.3v17"/><text class="L" x="1271.1" y="950">T</text><text class="n" x="1271.1" y="970.3">1</text></g>
<g id="T5" class="s"><path d="M1300.9 941.3v17"/><text class="L" x="1300.9" y="950">T</text><text class="n" x="1300.9" y="970.3">5</text></g>
</g>
<g id="guard-right">
<g id="G14" class="s"><path d="M1299.5 1038.8v14"/><text class="L" x="1299.5" y="1047.5">G</text><text class="n" x="1299.5" y="1064.8">14</text></g>
<g id="G12" class="s"><path d="M1397.5 1038.8v14"/><text class="L" x="1397.5" y="1047.5">G</text><text class="n" x="1397.5" y="1064.8">12</text></g>
<g id="G13" class="s"><path d="M1495 1038.8v14"/><text class="L" x="1495" y="1047.5">G</text><text class="n" x="1495" y="1064.8">13</text></g>
<g id="G6" class="s"><path d="M1593 842.8h20"/><text class="L" x="1593" y="851.5">G</text><text class="n st" x="1614" y="847.5">6</text></g>
<g id="G8" class="s"><path d="M1593 940.8h20"/><text class="L" x="1593" y="949.5">G</text><text class="n st" x="1614" y="945.5">8</text></g>
<g id="G7" class="s"><path d="M1593 1038.8h20"/><text class="L" x="1593" y="1047.5">G</text><text class="n st" x="1614" y="1043.5">7</text></g>
</g>
<g id="connectors">
<path stroke="#000" stroke-width="4.8" stroke-linecap="round" fill="none" d="M1006.4 62.7h0M981.1 86.7h0M1027.4 85.3h0M957.1 110.7h0M1051.8 109.3h0M931.9 134.7h0M1077 133.3h0M906.6 158.7h0M1102.3 157.3h0M882.2 182.7h0M1126.3 181.3h0M856.9 208h0M1151.5 205.3h0M831.7 232h0M1176.8 230.7h0M810.6 256h0M1201.2 254.7h0M834.6 280h0M1176.8 278.7h0M859.9 305.3h0M1153.2 304h0M883.9 329.3h0M1128 328h0M907.4 354.7h0M1104 352h0M933.3 378.3h0M1079.3 377.3h0M956.7 404h0M1054.3 401.7h0M981.7 427.5h0M1030.7 427h0M1006.7 450.7h0M907.7 452h0M1105.2 453.3h0M1301.3 352h0M1410.4 381h0M1502.4 446.7h0M711.7 500h0M858.3 498.7h0M956.7 498.7h0M1055 500h0M1152.7 500h0M1301.4 500h0M688.3 524h0M737.3 524h0M860 524h0M885 525.5h0M1126.5 526.7h0M1275.7 524h0M1322.9 521.7h0M1566.4 540h0M664 548h0M761.7 548h0M890.5 552h0M912.7 553.3h0M1006.7 545.3h0M1098.7 553.3h0M1252 548.3h0M1344.3 542.7h0M638.3 573.3h0M786.7 573.3h0M920 579h0M938.7 580.3h0M1071.7 581.3h0M1226.5 573.3h0M1366.4 565.7h0M1388.2 587h0M614.3 597.3h0M711.7 598.3h0M810 597.3h0M1202.6 597.7h0M1252 597.7h0M1349.6 597.7h0M949.3 607h0M965.3 607h0M1045 608.3h0M1409.3 608.3h0M590 622.7h0M834.3 622.7h0M1178.5 622.7h0M978.7 633.3h0M992 635h0M1018.5 635h0M1038.7 629.3h0M1431.8 631h0M565 646.7h0M664 646.7h0M761.7 646.7h0M860 646.7h0M1153.3 646.7h0M1453.2 652h0M1009.2 656h0M1252 662.7h0M1349.6 662.7h0M541 670.7h0M883.3 670.7h0M1129.3 671h0M1474.6 673.3h0M516 696h0M614.3 696h0M711.7 696h0M810 696h0M908.3 696h0M1105.2 696h0M1497.1 696h0M538.3 717.3h0M884 720h0M1126.6 717.7h0M1252 728.3h0M1349.6 728.3h0M1471.8 720h0M559.3 739h0M1147.3 739.5h0M664 744h0M761.7 744h0M860 744h0M1447.9 744h0M581.7 761.7h0M834.3 769.3h0M1006.7 769.3h0M1170.7 761.7h0M1423.8 769.3h0M1584.3 762.7h0M604 783.3h0M1192 782.7h0M711.7 794.3h0M810 793.3h0M982.7 793.3h0M1030.7 793.3h0M1251.7 793.3h0M1398.4 793.3h0M625 804.3h0M1213.3 804h0M786.7 818.7h0M956.7 818.7h0M1056 818.7h0M1374.4 819h0M646.7 826.7h0M1236 826.7h0M761.7 842.7h0M933.3 842.7h0M1080 842.7h0M1349.3 842.7h0M669.3 848h0M1256.7 848.3h0M737.3 866.7h0M908 866.7h0M1105.3 866.7h0M1278.3 869.3h0M1325.3 866.7h0M1536.2 864h0M690.7 869.3h0M711.7 892h0M884 892h0M1129.3 892h0M1301.2 892h0M908 916h0M1105.3 916h0M933.3 941.3h0M1080 941.3h0M1454.4 942.7h0M956.7 965.3h0M1056 965.3h0M1129.3 965.3h0M982.7 989.3h0M1030.7 989.3h0M1350 989.3h0M1237.3 997.3h0M1006.7 1014.7h0"/>
</g>
</svg>
